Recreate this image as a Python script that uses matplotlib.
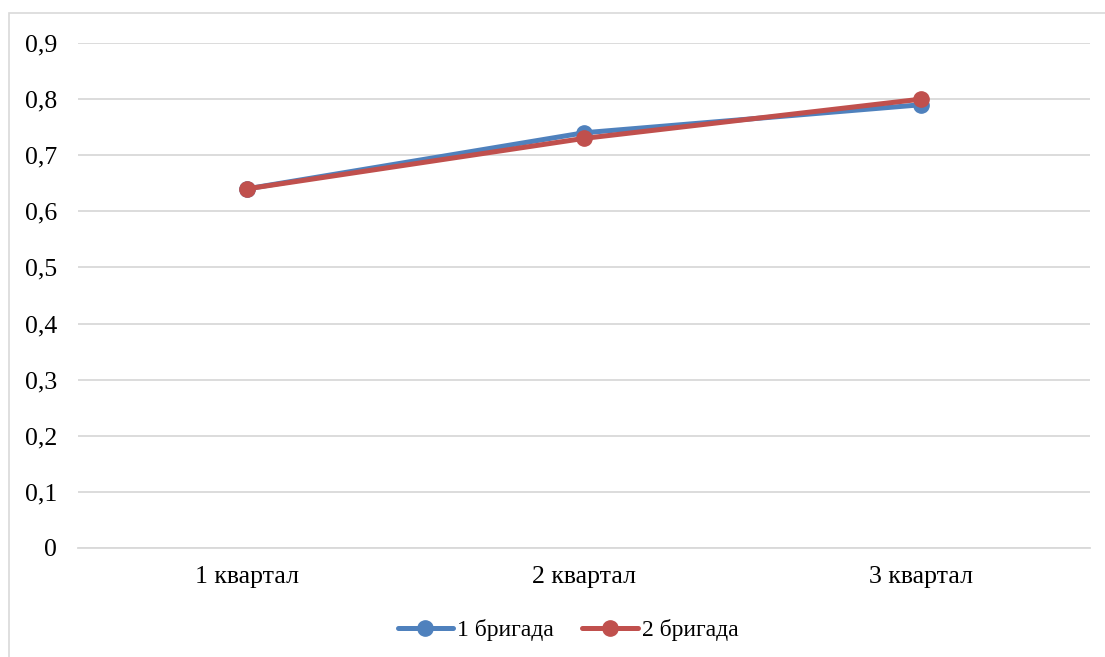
import matplotlib
matplotlib.use("Agg")
import matplotlib.pyplot as plt
from matplotlib.patches import Rectangle
from matplotlib.ticker import FuncFormatter

categories = ["1 квартал", "2 квартал", "3 квартал"]
brigade1 = [0.64, 0.74, 0.79]
brigade2 = [0.64, 0.73, 0.80]
series_names = ["1 бригада", "2 бригада"]
yticks = [0, 0.1, 0.2, 0.3, 0.4, 0.5, 0.6, 0.7, 0.8, 0.9]

plt.rcParams["font.family"] = ["Liberation Serif", "DejaVu Serif"]

W, H = 1105, 657
FS = 18.5
LEG_FS = 17.0
fig = plt.figure(figsize=(W / 100, H / 100), dpi=100)

# outer chart frame (left and top edges visible)
fig.patches.append(Rectangle((9 / W, -0.1), 1.2, (H - 13) / H + 0.1,
                             transform=fig.transFigure, fill=False,
                             edgecolor="#D9D9D9", linewidth=1.2))

ax = fig.add_axes([78 / W, (H - 548) / H, (1090 - 78) / W, (548 - 43) / H])
x = list(range(len(categories)))

ax.plot(x, brigade1, color="#4F81BD", lw=3.6, marker="o", ms=11,
        solid_capstyle="round", label=series_names[0], zorder=3)
ax.plot(x, brigade2, color="#C0504D", lw=3.6, marker="o", ms=11,
        solid_capstyle="round", label=series_names[1], zorder=4)


def comma_fmt(v, pos):
    if abs(v) < 1e-9:
        return "0"
    return f"{v:.1f}".replace(".", ",")


ax.set_xlim(-0.5, len(categories) - 0.5)
ax.set_ylim(0, 0.9)
ax.set_yticks(yticks)
ax.yaxis.set_major_formatter(FuncFormatter(comma_fmt))
ax.set_xticks(x)
ax.set_xticklabels(categories)
ax.grid(axis="y", color="#D9D9D9", lw=1.3)
ax.set_axisbelow(True)
for s in ["left", "right", "top"]:
    ax.spines[s].set_visible(False)
ax.spines["bottom"].set_color("#D9D9D9")
ax.spines["bottom"].set_linewidth(1.3)
ax.tick_params(axis="both", length=0, labelsize=FS, colors="black")
ax.tick_params(axis="y", pad=15)
ax.tick_params(axis="x", pad=13)

leg = fig.legend(loc="center", bbox_to_anchor=(568 / W, 1 - 630 / H), ncol=2,
                 frameon=False, fontsize=LEG_FS, handlelength=2.35,
                 columnspacing=1.2, handletextpad=0.17)

fig.savefig("out.png", dpi=100)
